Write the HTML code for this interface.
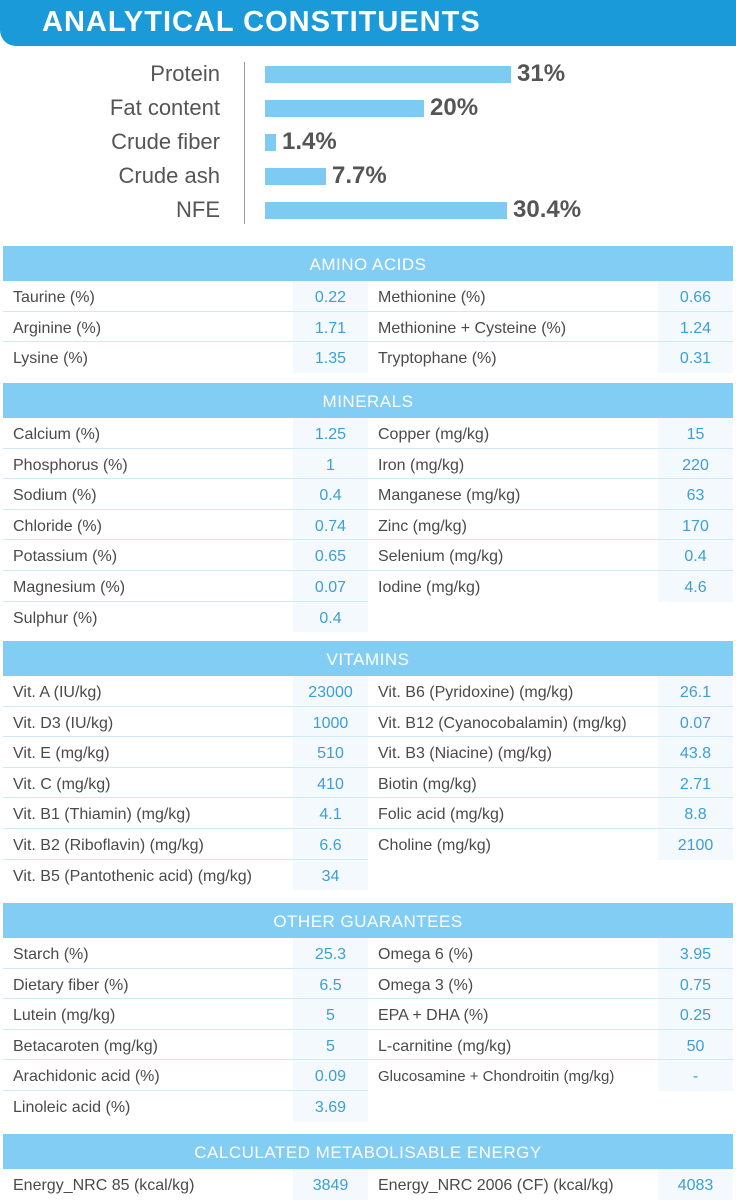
<!DOCTYPE html>
<html><head><meta charset="utf-8"><style>
*{margin:0;padding:0;box-sizing:border-box}
body{width:736px;height:1200px;background:#fff;position:relative;overflow:hidden;font-family:"Liberation Sans",sans-serif;color:#4a4a4a}
.title{position:absolute;left:0;top:0;width:736px;height:46px;background:#1a9ad9;border-bottom-left-radius:16px}
.title span{position:absolute;left:42px;top:6px;color:#fff;font-weight:bold;font-size:29px;letter-spacing:1px}
.lab{position:absolute;right:516px;font-size:22px;color:#555}
.bar{position:absolute;left:265px;height:17px;background:#7dcaf2}
.val{position:absolute;font-size:24px;font-weight:bold;color:#555}
.vline{position:absolute;left:244px;top:62px;width:1px;height:162px;background:#999}
.sec{position:absolute;left:3px;width:730px}
.hd{height:35px;background:#82cdf3;color:#fff;text-align:center;font-size:17px;line-height:37px;letter-spacing:.5px}
.row{display:flex;height:30.6px;font-size:16px;line-height:34px}
.c{display:flex;width:365px}
.c .l{width:290px;padding-left:10px;border-bottom:1px solid #cfe9f7;white-space:nowrap}
.c .v{width:75px;text-align:center;color:#3d9fd6;background:#f3f9fd;border-bottom:1px solid #cfe9f7}
.last .c .l,.last .c .v{border-bottom:none}
.c.e .l,.c.e .v{border:none;background:none}
</style></head><body>
<div class="title"><span>ANALYTICAL CONSTITUENTS</span></div>
<div class="vline"></div>
<div class="lab" style="top:61px">Protein</div>
<div class="lab" style="top:95px">Fat content</div>
<div class="lab" style="top:129px">Crude fiber</div>
<div class="lab" style="top:163px">Crude ash</div>
<div class="lab" style="top:197px">NFE</div>
<div class="bar" style="top:66px;width:246px"></div><div class="val" style="left:517px;top:60px">31%</div>
<div class="bar" style="top:100px;width:159px"></div><div class="val" style="left:430px;top:94px">20%</div>
<div class="bar" style="top:134px;width:11px"></div><div class="val" style="left:282px;top:128px">1.4%</div>
<div class="bar" style="top:168px;width:61px"></div><div class="val" style="left:332px;top:162px">7.7%</div>
<div class="bar" style="top:202px;width:242px"></div><div class="val" style="left:513px;top:196px">30.4%</div>

<div class="sec" style="top:246px"><div class="hd">AMINO ACIDS</div>
<div class="row"><div class="c"><div class="l">Taurine (%)</div><div class="v">0.22</div></div><div class="c"><div class="l">Methionine (%)</div><div class="v">0.66</div></div></div>
<div class="row"><div class="c"><div class="l">Arginine (%)</div><div class="v">1.71</div></div><div class="c"><div class="l">Methionine + Cysteine (%)</div><div class="v">1.24</div></div></div>
<div class="row last"><div class="c"><div class="l">Lysine (%)</div><div class="v">1.35</div></div><div class="c"><div class="l">Tryptophane (%)</div><div class="v">0.31</div></div></div>
</div>

<div class="sec" style="top:383px"><div class="hd">MINERALS</div>
<div class="row"><div class="c"><div class="l">Calcium (%)</div><div class="v">1.25</div></div><div class="c"><div class="l">Copper (mg/kg)</div><div class="v">15</div></div></div>
<div class="row"><div class="c"><div class="l">Phosphorus (%)</div><div class="v">1</div></div><div class="c"><div class="l">Iron (mg/kg)</div><div class="v">220</div></div></div>
<div class="row"><div class="c"><div class="l">Sodium (%)</div><div class="v">0.4</div></div><div class="c"><div class="l">Manganese (mg/kg)</div><div class="v">63</div></div></div>
<div class="row"><div class="c"><div class="l">Chloride (%)</div><div class="v">0.74</div></div><div class="c"><div class="l">Zinc (mg/kg)</div><div class="v">170</div></div></div>
<div class="row"><div class="c"><div class="l">Potassium (%)</div><div class="v">0.65</div></div><div class="c"><div class="l">Selenium (mg/kg)</div><div class="v">0.4</div></div></div>
<div class="row"><div class="c"><div class="l">Magnesium (%)</div><div class="v">0.07</div></div><div class="c"><div class="l" style="border:none">Iodine (mg/kg)</div><div class="v" style="border:none">4.6</div></div></div>
<div class="row last"><div class="c"><div class="l">Sulphur (%)</div><div class="v">0.4</div></div><div class="c e"><div class="l"></div><div class="v"></div></div></div>
</div>

<div class="sec" style="top:641px"><div class="hd">VITAMINS</div>
<div class="row"><div class="c"><div class="l">Vit. A (IU/kg)</div><div class="v">23000</div></div><div class="c"><div class="l">Vit. B6 (Pyridoxine) (mg/kg)</div><div class="v">26.1</div></div></div>
<div class="row"><div class="c"><div class="l">Vit. D3 (IU/kg)</div><div class="v">1000</div></div><div class="c"><div class="l">Vit. B12 (Cyanocobalamin) (mg/kg)</div><div class="v">0.07</div></div></div>
<div class="row"><div class="c"><div class="l">Vit. E (mg/kg)</div><div class="v">510</div></div><div class="c"><div class="l">Vit. B3 (Niacine) (mg/kg)</div><div class="v">43.8</div></div></div>
<div class="row"><div class="c"><div class="l">Vit. C (mg/kg)</div><div class="v">410</div></div><div class="c"><div class="l">Biotin (mg/kg)</div><div class="v">2.71</div></div></div>
<div class="row"><div class="c"><div class="l">Vit. B1 (Thiamin) (mg/kg)</div><div class="v">4.1</div></div><div class="c"><div class="l">Folic acid (mg/kg)</div><div class="v">8.8</div></div></div>
<div class="row"><div class="c"><div class="l">Vit. B2 (Riboflavin) (mg/kg)</div><div class="v">6.6</div></div><div class="c"><div class="l" style="border:none">Choline (mg/kg)</div><div class="v" style="border:none">2100</div></div></div>
<div class="row last"><div class="c"><div class="l">Vit. B5 (Pantothenic acid) (mg/kg)</div><div class="v">34</div></div><div class="c e"><div class="l"></div><div class="v"></div></div></div>
</div>

<div class="sec" style="top:903px"><div class="hd">OTHER GUARANTEES</div>
<div class="row"><div class="c"><div class="l">Starch (%)</div><div class="v">25.3</div></div><div class="c"><div class="l">Omega 6 (%)</div><div class="v">3.95</div></div></div>
<div class="row"><div class="c"><div class="l">Dietary fiber (%)</div><div class="v">6.5</div></div><div class="c"><div class="l">Omega 3 (%)</div><div class="v">0.75</div></div></div>
<div class="row"><div class="c"><div class="l">Lutein (mg/kg)</div><div class="v">5</div></div><div class="c"><div class="l">EPA + DHA (%)</div><div class="v">0.25</div></div></div>
<div class="row"><div class="c"><div class="l">Betacaroten (mg/kg)</div><div class="v">5</div></div><div class="c"><div class="l">L-carnitine (mg/kg)</div><div class="v">50</div></div></div>
<div class="row"><div class="c"><div class="l">Arachidonic acid (%)</div><div class="v">0.09</div></div><div class="c"><div class="l" style="border:none;font-size:15px">Glucosamine + Chondroitin (mg/kg)</div><div class="v" style="border:none">-</div></div></div>
<div class="row last"><div class="c"><div class="l">Linoleic acid (%)</div><div class="v">3.69</div></div><div class="c e"><div class="l"></div><div class="v"></div></div></div>
</div>

<div class="sec" style="top:1134px"><div class="hd">CALCULATED METABOLISABLE ENERGY</div>
<div class="row last"><div class="c"><div class="l">Energy_NRC 85 (kcal/kg)</div><div class="v">3849</div></div><div class="c"><div class="l">Energy_NRC 2006 (CF) (kcal/kg)</div><div class="v">4083</div></div></div>
</div>
</body></html>
